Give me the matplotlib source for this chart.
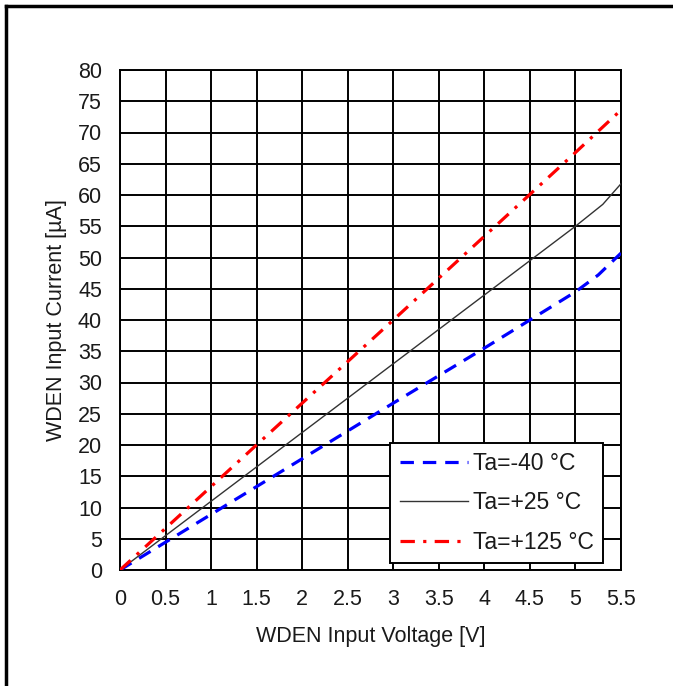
import matplotlib
matplotlib.use("Agg")
import matplotlib.pyplot as plt
from matplotlib.lines import Line2D

plt.rcParams['font.family'] = ['Liberation Sans', 'DejaVu Sans']

# Data
v_m40 = [0, 1, 2, 3, 4, 5, 5.25, 5.5]
i_m40 = [0, 8.9, 17.8, 26.7, 35.5, 44.5, 47.2, 50.7]
v_25 = [0, 1, 2, 3, 4, 5, 5.3, 5.5]
i_25 = [0, 11.0, 22.0, 33.0, 44.0, 55.0, 58.5, 61.8]
v_125 = [0, 1, 2, 3, 4, 5, 5.5]
i_125 = [0, 13.35, 26.7, 40.0, 53.4, 66.8, 73.6]
labels = ['Ta=-40 °C', 'Ta=+25 °C', 'Ta=+125 °C']
xticks = [0, 0.5, 1, 1.5, 2, 2.5, 3, 3.5, 4, 4.5, 5, 5.5]
xticklabels = ['0', '0.5', '1', '1.5', '2', '2.5', '3', '3.5', '4', '4.5', '5', '5.5']
yticks = list(range(0, 81, 5))

FS = 15.5
LFS = 16.5
TXT = '#1a1a1a'

fig = plt.figure(figsize=(6.73, 6.86), dpi=100)
ax = fig.add_axes([120/673, 1-570/686, (621-120)/673, (570-70)/686])

ax.plot(v_m40, i_m40, color='#0000ff', lw=2.3, dashes=(4.2, 2.8), label=labels[0], zorder=3)
ax.plot(v_25, i_25, color='#333333', lw=1.0, label=labels[1], zorder=3)
ax.plot(v_125, i_125, color='#ff0000', lw=2.3, dashes=(4.5, 2.6, 1, 2.6), label=labels[2], zorder=3)

ax.set_xlim(0, 5.5)
ax.set_ylim(0, 80)
ax.set_xticks(xticks)
ax.set_xticklabels(xticklabels)
ax.set_yticks(yticks)
ax.grid(True, color='black', lw=1.4)
ax.tick_params(length=0, labelsize=FS, colors=TXT)
ax.tick_params(axis='y', pad=13)
ax.tick_params(axis='x', pad=14)
for s in ax.spines.values():
    s.set_linewidth(1.4)
    s.set_color('black')

ax.set_xlabel('WDEN Input Voltage [V]', fontsize=FS, color=TXT, labelpad=11)
ax.set_ylabel('WDEN Input Current [µA]', fontsize=FS, color=TXT, labelpad=8)

leg = ax.legend(loc='lower right', bbox_to_anchor=(603/673, 1-563/686), bbox_transform=fig.transFigure,
                fontsize=LFS, frameon=True, fancybox=False, edgecolor='black', framealpha=1,
                handlelength=3.0, borderpad=0.4, labelspacing=0.72, handletextpad=0.2, borderaxespad=0)
leg.get_frame().set_linewidth(1.4)
for t in leg.get_texts():
    t.set_color(TXT)

# figure frame (top and left)
fig.add_artist(Line2D([6/673, 6/673], [0, 1-6/686], transform=fig.transFigure, color='black', lw=2.5))
fig.add_artist(Line2D([6/673, 1], [1-6/686, 1-6/686], transform=fig.transFigure, color='black', lw=2.5))

fig.savefig('out.png', dpi=100)
